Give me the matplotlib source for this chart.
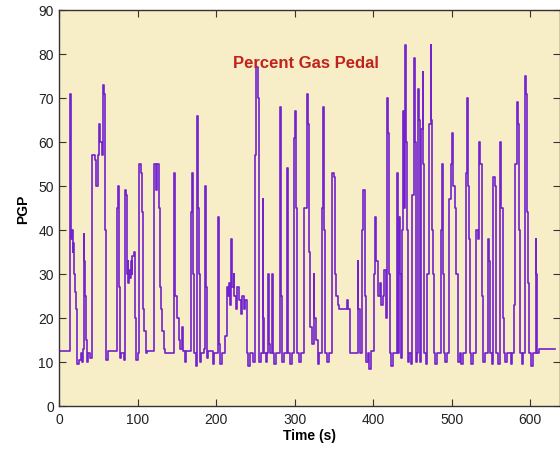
"""
Percent gas pedal trace over a drive cycle (MATLAB style figure)
"""
import matplotlib
matplotlib.use("Agg")
import matplotlib.pyplot as plt

# breakpoints: time (s) and pedal position (%), held until next time
time_s = [0, 14, 15, 16, 17, 18, 19, 20, 21, 22, 23, 25, 27, 29, 30, 31, 32, 33, 34, 35,
          37, 39, 41, 42, 45, 47, 49, 51, 52, 54, 55, 57, 58, 59, 60, 62, 74, 75, 76, 77,
          79, 83, 84, 85, 86, 87, 88, 89, 90, 91, 92, 93, 95, 96, 97, 98, 100, 102, 104, 105,
          106, 107, 108, 110, 112, 120, 121, 123, 125, 127, 128, 129, 131, 133, 135, 146, 147, 148, 150, 152,
          154, 156, 157, 160, 161, 168, 169, 170, 171, 172, 174, 175, 176, 177, 178, 179, 181, 184, 186, 187,
          188, 190, 196, 197, 202, 203, 204, 205, 207, 211, 213, 215, 216, 218, 219, 220, 222, 223, 225, 227,
          229, 231, 233, 235, 237, 239, 241, 243, 247, 249, 251, 253, 254, 255, 257, 259, 260, 261, 263, 265,
          266, 267, 269, 271, 272, 274, 276, 281, 282, 283, 284, 286, 290, 291, 292, 294, 296, 299, 300, 301,
          302, 303, 306, 308, 312, 316, 317, 318, 319, 320, 322, 324, 325, 327, 329, 331, 335, 336, 337, 338,
          341, 343, 348, 350, 351, 353, 355, 357, 366, 368, 370, 378, 380, 381, 383, 386, 387, 389, 390, 391,
          393, 395, 397, 401, 402, 404, 406, 408, 410, 412, 414, 416, 418, 419, 420, 421, 423, 425, 430, 431,
          432, 433, 434, 435, 437, 438, 439, 441, 442, 443, 444, 446, 448, 450, 452, 453, 454, 455, 456, 457,
          458, 459, 460, 461, 463, 464, 465, 467, 469, 471, 473, 474, 475, 476, 477, 479, 481, 486, 488, 489,
          490, 492, 494, 496, 497, 499, 501, 502, 504, 506, 508, 510, 512, 514, 518, 520, 521, 522, 523, 525,
          527, 531, 533, 535, 536, 538, 539, 540, 542, 546, 548, 549, 551, 553, 555, 556, 557, 559, 561, 562,
          563, 565, 566, 568, 570, 575, 577, 580, 581, 583, 584, 586, 587, 589, 591, 593, 595, 596, 597, 598,
          599, 601, 603, 607, 608, 609, 611, 632]
pgp = [12.5, 71, 38, 40, 35, 37, 30, 26, 22, 13, 9.5, 10.5, 12, 10, 13, 39, 33, 25, 15, 10,
       12, 11, 13, 57, 56, 50, 57, 64, 60, 57, 73, 71, 40, 23, 10.5, 12.5, 45, 50, 27, 11,
       12, 10.5, 49, 48, 30, 33, 28, 31, 29, 33, 30, 34, 35, 31, 20, 10.5, 12, 55, 53, 44,
       26, 22, 17, 12, 12.5, 12.5, 55, 49, 55, 45, 27, 22, 17, 13, 12, 53, 39, 25, 20, 15,
       13, 18, 12.5, 10, 12.5, 44, 53, 30, 26, 12, 9, 12, 66, 45, 30, 10, 12, 13, 50, 27,
       11, 12.5, 9.5, 12, 43, 30, 14, 9.5, 12, 16, 27, 25, 28, 23, 38, 27, 30, 25, 22, 27,
       24, 21, 25, 22, 24, 12, 9, 12, 10, 57, 77, 70, 40, 10, 12, 47, 20, 12, 10, 12,
       30, 14, 12, 30, 12, 9.5, 12, 68, 49, 25, 10, 12, 54, 40, 12, 9.5, 12, 61, 67, 63,
       45, 12, 10, 12, 45, 71, 64, 35, 23, 18, 14, 30, 20, 15, 9.5, 12, 45, 68, 40, 12,
       10, 12, 53, 52, 30, 25, 23, 22, 24, 22, 12, 12, 33, 22, 12, 40, 49, 35, 25, 10,
       12, 8.5, 12.5, 30, 43, 33, 25, 28, 23, 25, 31, 20, 70, 62, 30, 12, 9, 12, 53, 25,
       12, 43, 30, 11, 40, 67, 45, 82, 60, 40, 10, 12, 9.5, 48, 79, 60, 35, 10, 12, 72,
       65, 40, 10, 63, 76, 55, 12, 9.5, 30, 64, 82, 65, 40, 30, 12, 9.5, 12, 40, 55, 30,
       12, 10, 12, 40, 47, 55, 62, 50, 45, 30, 10, 12, 9.5, 12, 53, 70, 50, 38, 12, 9.5,
       12, 40, 38, 60, 55, 40, 25, 10, 12, 38, 33, 12, 9.5, 52, 50, 25, 12, 9.5, 42, 60,
       45, 20, 12, 10, 12, 9.5, 12, 23, 55, 69, 64, 40, 12, 9.5, 12, 75, 71, 44, 28, 20,
       12, 9, 12, 38, 30, 12, 13, 13]

x_ticks = [0, 100, 200, 300, 400, 500, 600]
y_ticks = [0, 10, 20, 30, 40, 50, 60, 70, 80, 90]

plt.rcParams['font.family'] = ['Liberation Sans', 'DejaVu Sans']

fig = plt.figure(figsize=(5.6, 4.52), dpi=100)
ax = fig.add_axes([0.106, 0.0996, 0.894, 0.8761])
ax.set_facecolor('#f7edc6')

ax.plot(time_s, pgp, color='#7222cf', linewidth=1.2, drawstyle='steps-post')

ax.set_xlim(0, 638)
ax.set_ylim(0, 90)
ax.set_xticks(x_ticks)
ax.set_yticks(y_ticks)
ax.tick_params(direction='in', length=5, top=True, right=True, labelsize=10,
               colors='#333333', labelcolor='#222222', pad=4)
for s in ax.spines.values():
    s.set_color('#333333')
    s.set_linewidth(1.0)

ax.set_xlabel('Time (s)', fontsize=10, fontweight='bold', labelpad=2)
ax.set_ylabel('PGP', fontsize=10, fontweight='bold', labelpad=6)
ax.text(314, 78.1, 'Percent Gas Pedal', color='#c0231c', fontsize=12,
        fontweight='bold', ha='center', va='center')

fig.savefig('out.png', dpi=100)
